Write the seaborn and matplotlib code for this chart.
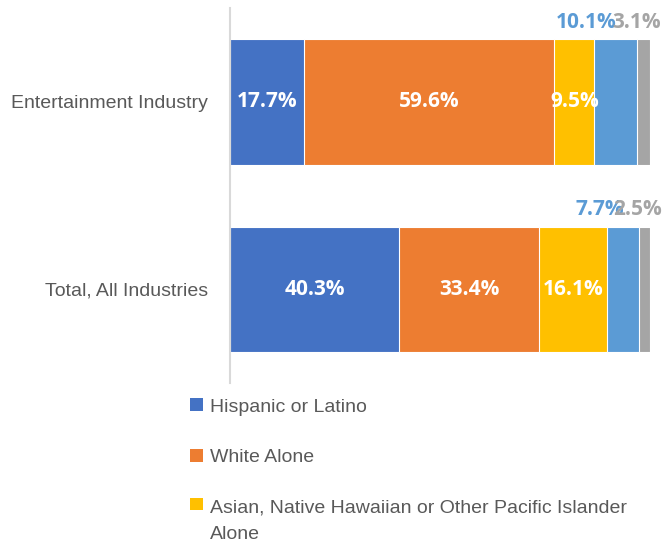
import seaborn as sns
import numpy as np
import pandas as pd
import matplotlib.pyplot as plt
from matplotlib.patches import Patch

# dados do gráfico (percentuais por grupo)
industrias = ["Entertainment Industry", "Total, All Industries"]
grupos = ["Hispanic or Latino", "White Alone",
          "Asian, Native Hawaiian or Other Pacific Islander Alone",
          "Black or African American Alone", "Other"]
hispanic = [17.7, 40.3]
white = [59.6, 33.4]
asian = [9.5, 16.1]
black = [10.1, 7.7]
other = [3.1, 2.5]

cores = ["#4472C4", "#ED7D31", "#FFC000", "#5B9BD5", "#A5A5A5"]
legenda = ["Hispanic or Latino", "White Alone",
           "Asian, Native Hawaiian or Other Pacific Islander\nAlone"]

sns.set_style("white")
plt.rcParams["font.family"] = ["Liberation Sans", "DejaVu Sans"]

valores = np.array([hispanic, white, asian, black, other])
acumulado = valores.cumsum(axis=0)
inicio = acumulado - valores

df = pd.DataFrame({"industria": industrias})
for k, g in enumerate(grupos):
    df[g] = acumulado[k]

fig = plt.figure(figsize=(6.72, 5.42), dpi=100)
ax = fig.add_axes([0.342, 0.293, 0.625, 0.692])

# barras empilhadas: desenha do acumulado maior para o menor
for k in range(len(grupos) - 1, -1, -1):
    sns.barplot(data=df, x=grupos[k], y="industria", orient="h", color=cores[k],
                saturation=1, width=0.67, edgecolor="white", linewidth=0.8, ax=ax)

ax.set_xlim(0, 100)
ax.set_ylim(1.5, -0.5)
ax.set_xlabel("")
ax.set_ylabel("")
ax.set_xticks([])
ax.tick_params(axis="y", length=0, pad=15.5, labelsize=14, labelcolor="#595959")
sns.despine(ax=ax, top=True, right=True, bottom=True)
ax.spines["left"].set_color("#D9D9D9")
ax.spines["left"].set_linewidth(1.5)

fonte_rotulo = ["Open Sans", "DejaVu Sans"]

# rótulos dentro das barras (três primeiros grupos)
for k in range(3):
    for i in range(len(industrias)):
        ax.text(inicio[k, i] + valores[k, i] / 2, i, f"{valores[k, i]:.1f}%",
                ha="center", va="center", color="white", fontsize=15,
                fontweight="bold", family=fonte_rotulo)

# rótulos acima das barras (dois últimos grupos)
for i in range(len(industrias)):
    topo = i - 0.335
    ax.annotate(f"{black[i]:.1f}%", (inicio[3, i] + black[i] / 2, topo),
                xytext=(1, 17), textcoords="offset pixels", ha="right",
                va="center", color=cores[3], fontsize=15, fontweight="bold",
                family=fonte_rotulo, annotation_clip=False)
    ax.annotate(f"{other[i]:.1f}%", (inicio[4, i] + other[i] / 2, topo),
                xytext=(-7, 17), textcoords="offset pixels", ha="center",
                va="center", color=cores[4], fontsize=15, fontweight="bold",
                family=fonte_rotulo, annotation_clip=False)

handles = [Patch(facecolor=cores[k], edgecolor="none") for k in range(3)]
leg = fig.legend(handles, legenda, loc="upper left", bbox_to_anchor=(0.283, 0.265),
                 frameon=False, fontsize=14, handlelength=0.65, handleheight=0.65,
                 handletextpad=0.35, labelspacing=1.7, borderpad=0, borderaxespad=0)
for t in leg.get_texts():
    t.set_color("#595959")
    t.set_linespacing(1.75)
# alinha o marcador do item de duas linhas com a primeira linha
h = leg.legend_handles[2]
h.set_y(h.get_y() + 12)

plt.savefig("out.png", dpi=100)
